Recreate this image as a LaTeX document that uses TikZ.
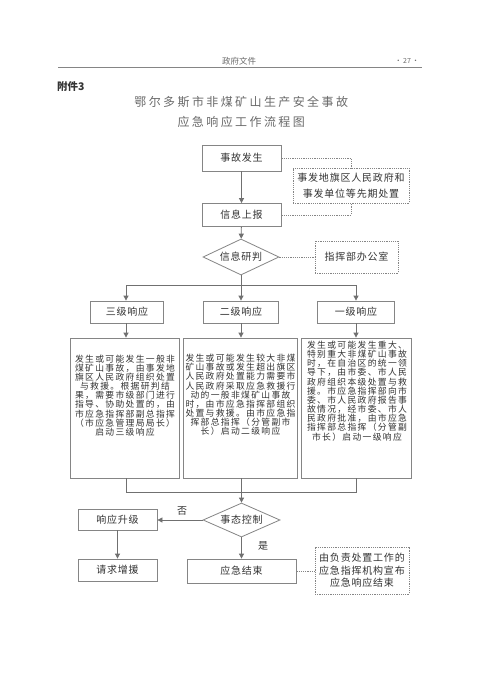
\documentclass[tikz,border=0pt]{standalone}
\usepackage{fontspec}
\setmainfont{Noto Sans CJK SC}
\newfontfamily\lblfont{Noto Sans CJK SC}[LetterSpace=8]
\newfontfamily\bdyfont{Noto Sans CJK SC}[LetterSpace=15]
\newfontfamily\ttlfont{Noto Sans CJK SC}[LetterSpace=20]
\usetikzlibrary{shapes.geometric,arrows.meta}
\definecolor{bordc}{HTML}{858585}
\definecolor{linec}{HTML}{707070}
\definecolor{txtc}{HTML}{333333}
\definecolor{ttlc}{HTML}{6A6A6A}
\tikzset{
  box/.style={draw=bordc, line width=0.8pt, fill=white, inner sep=0pt, text=txtc,
    font=\lblfont\fontsize{10}{12}\selectfont},
  bigbox/.style={draw=bordc, line width=0.8pt, inner sep=0pt},
  bodytext/.style={inner sep=0pt, align=center, text=txtc,
    font=\bdyfont\fontsize{8.8}{9.15}\selectfont},
  dbox/.style={draw=bordc, line width=0.6pt, dash pattern=on 1.2pt off 1pt, inner sep=0pt,
    align=center, text=txtc, font=\lblfont\fontsize{10}{12}\selectfont},
  dia/.style={diamond, draw=bordc, line width=0.8pt, inner sep=0pt, aspect=2.1, text=txtc,
    font=\lblfont\fontsize{10}{12}\selectfont},
  arr/.style={draw=linec, line width=0.8pt, -{Triangle[length=5pt,width=5pt]}},
  conn/.style={draw=linec, line width=0.8pt},
  dconn/.style={draw=bordc, line width=0.6pt, dash pattern=on 1.2pt off 1pt},
  lab/.style={inner sep=0pt, text=txtc, font=\fontsize{10}{12}\selectfont}
}
\begin{document}
\begin{tikzpicture}[x=1pt,y=-1pt]
\fill[white] (0,0) rectangle (480,679);
\useasboundingbox (0,0) rectangle (480,679);

% header
\node[inner sep=0pt, text=ttlc, font=\fontsize{8.5}{10}\selectfont] (hdr) at (239,61) {政府文件};
\node[inner sep=0pt, text=ttlc, font=\fontsize{7}{9}\selectfont] (pg) at (407,61) {·\,27\,·};
\draw[bordc, line width=0.6pt] (58,67) -- (422,67);
\node[anchor=west, inner sep=0pt, text=txtc, font=\bfseries\fontsize{10.5}{12}\selectfont] (att) at (57,87) {附件3};
\node[inner sep=0pt, text=ttlc, font=\ttlfont\fontsize{12}{14}\selectfont] (t1) at (241.2,102) {鄂尔多斯市非煤矿山生产安全事故};
\node[inner sep=0pt, text=ttlc, font=\ttlfont\fontsize{12}{14}\selectfont] (t2) at (241.2,122) {应急响应工作流程图};

% top part
\node[box, minimum width=79pt, minimum height=26pt] (a) at (241.5,158) {事故发生};
\node[box, minimum width=79pt, minimum height=23pt] (b) at (241.5,215) {信息上报};
\node[dbox, minimum width=116pt, minimum height=35pt, font=\lblfont\fontsize{10}{16}\selectfont] (c) at (351,185.5) {事发地旗区人民政府和\\事发单位等先期处置};
\node[dia, minimum width=76pt, minimum height=36pt] (d1) at (241,257) {信息研判};
\node[dbox, minimum width=83pt, minimum height=32pt] (e) at (356.5,257) {指挥部办公室};

\draw[arr] (a) -- (b);
\draw[arr] (b) -- (d1);
\draw[dconn] (a.east) -- (a.east -| c.north) -- (c.north);
\draw[dconn] (b.east) -- (b.east -| c.south) -- (c.south);
\draw[dconn] (d1.east) -- (e.west);

% three levels
\node[box, minimum width=73pt, minimum height=22pt] (s3) at (127,312) {三级响应};
\node[box, minimum width=75pt, minimum height=22pt] (s2) at (241,312) {二级响应};
\node[box, minimum width=77pt, minimum height=22pt] (s1) at (356,312) {一级响应};

\coordinate (barL) at (126,285);
\coordinate (barR) at (356,285);
\draw[conn] (barL) -- (barR);
\draw[arr] (d1.south) -- (s2.north);
\draw[arr] (barL) -- (barL |- s3.north);
\draw[arr] (barR) -- (barR |- s1.north);

\node[bigbox, minimum width=109pt, minimum height=140pt] (L) at (124.5,408) {};
\node[bigbox, minimum width=114pt, minimum height=140pt] (M) at (240.5,408) {};
\node[bigbox, minimum width=110pt, minimum height=140pt] (R) at (356,408) {};

\node[bodytext] (Lt) at (125,395.5) {发生或可能发生一般非\\煤矿山事故，由事发地\\旗区人民政府组织处置\\与救援。根据研判结\\果，需要市级部门进行\\指导、协助处置的，由\\市应急指挥部副总指挥\\（市应急管理局局长）\\启动三级响应};
\node[bodytext] (Mt) at (240.5,395) {发生或可能发生较大非煤\\矿山事故或发生超出旗区\\人民政府处置能力需要市\\人民政府采取应急救援行\\动的一般非煤矿山事故\\时，由市应急指挥部组织\\处置与救援。由市应急指\\挥部总指挥（分管副市\\长）启动二级响应};
\node[bodytext] (Rt) at (357,391) {发生或可能发生重大、\\特别重大非煤矿山事故\\时，在自治区的统一领\\导下，由市委、市人民\\政府组织本级处置与救\\援。市应急指挥部向市\\委、市人民政府报告事\\故情况，经市委、市人\\民政府批准，由市应急\\指挥部总指挥（分管副\\市长）启动一级响应};

\draw[arr] (s3.south -| barL) -- (L.north -| barL);
\draw[arr] (s2.south) -- (s2.south |- M.north);
\draw[arr] (s1.south -| barR) -- (R.north -| barR);

% bottom part
\node[dia, minimum width=77pt, minimum height=34pt] (d2) at (241.5,520) {事态控制};
\node[box, minimum width=79pt, minimum height=21pt] (u) at (117.5,519.5) {响应升级};
\node[box, minimum width=79pt, minimum height=22pt] (q) at (117.5,570) {请求增援};
\node[box, minimum width=109pt, minimum height=24pt] (fin) at (241.5,571) {应急结束};
\node[dbox, minimum width=94pt, minimum height=47pt, font=\lblfont\fontsize{10}{12.5}\selectfont] (f) at (362,570.5) {由负责处置工作的\\应急指挥机构宣布\\应急响应结束};

\coordinate (bL) at (126,492);
\coordinate (bR) at (356,492);
\draw[conn] (L.south -| bL) -- (bL) -- (bR) -- (R.south -| bR);
\draw[arr] (d2.north |- M.south) -- (d2.north);
\draw[arr] (d2.west) -- (d2.west -| u.east);
\draw[arr] (u) -- (q);
\draw[arr] (d2.south) -- (fin.north);
\draw[dconn] (fin.east) -- (fin.east -| f.west);

\node[lab] (no) at (182,511) {否};
\node[lab] (yes) at (263,546) {是};
\end{tikzpicture}
\end{document}
